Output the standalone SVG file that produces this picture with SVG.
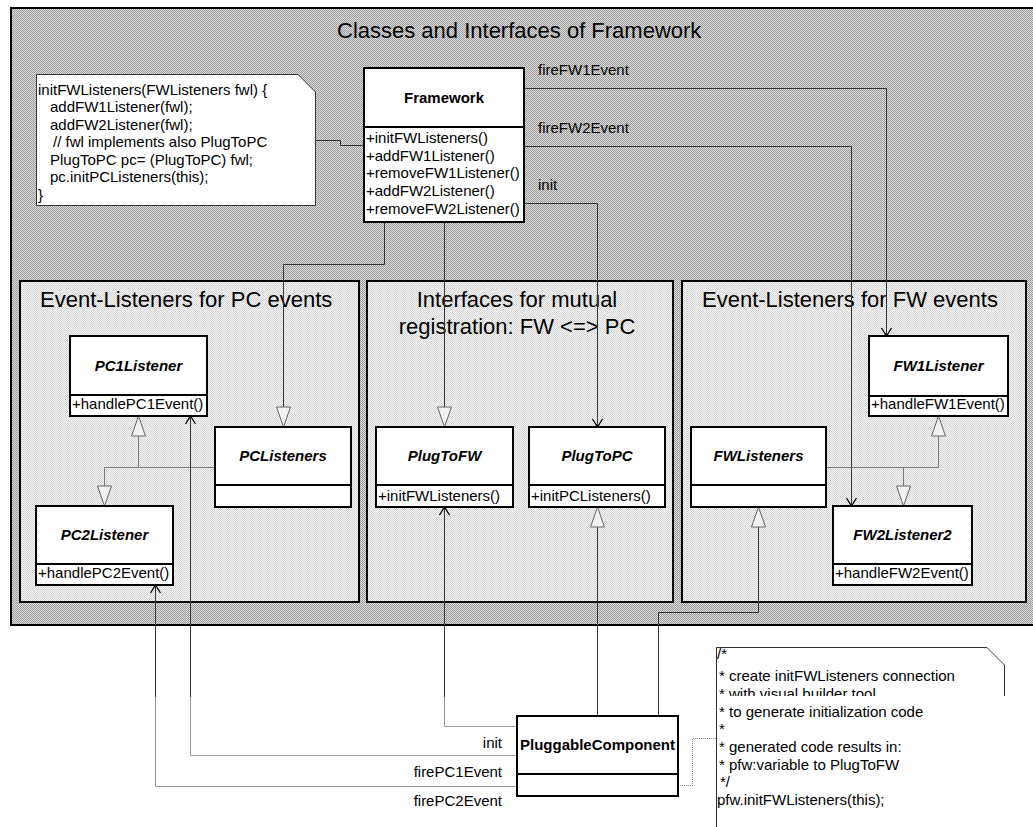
<svg xmlns="http://www.w3.org/2000/svg" width="1033" height="827" viewBox="0 0 1033 827">
  <defs>
    <!-- dithered fills for the package frames -->
    <pattern id="ditherDark" width="2" height="2" patternUnits="userSpaceOnUse">
      <rect width="2" height="2" fill="#dcdcdc"/>
      <rect width="1" height="1" fill="#9c9c9c"/>
      <rect x="1" y="1" width="1" height="1" fill="#9c9c9c"/>
    </pattern>
    <pattern id="ditherLight" width="2" height="2" patternUnits="userSpaceOnUse">
      <rect width="2" height="2" fill="#f8f8f8"/>
      <rect width="1" height="1" fill="#d2d2d2"/>
      <rect x="1" y="1" width="1" height="1" fill="#d2d2d2"/>
    </pattern>
    <!-- navigable association: open arrowhead -->
    <marker id="open" viewBox="-1 -1 10 12" markerWidth="10" markerHeight="12" refX="8" refY="5" orient="auto" markerUnits="userSpaceOnUse" overflow="visible">
      <path d="M0,0 L8,5 L0,10" fill="none" stroke="#000" stroke-width="1.3"/>
    </marker>
    <!-- generalization / realization: hollow triangle -->
    <marker id="tri" viewBox="-1 -1 22 16" markerWidth="22" markerHeight="16" refX="20" refY="7" orient="auto" markerUnits="userSpaceOnUse" overflow="visible">
      <path d="M0,0 L20,7 L0,14 Z" fill="#f1f1f1" stroke="#666" stroke-width="1"/>
    </marker>
    <clipPath id="seam">
      <rect x="700" y="640" width="320" height="56"/>
    </clipPath>
  </defs>
  <style>
    text { font-family: "Liberation Sans", Arial, Helvetica, sans-serif; fill: #000; }
    .title { font-size: 22px; }
    .name { font-size: 15px; font-weight: bold; text-anchor: middle; }
    .abstract { font-style: italic; }
    .op, .lbl, .note { font-size: 15px; }
    .end { text-anchor: end; }
    .box { fill: #fff; stroke: #000; stroke-width: 2; }
    .div { stroke: #000; stroke-width: 2; fill: none; }
    .frame { fill: url(#ditherDark); stroke: #000; stroke-width: 2; }
    .pkg { fill: url(#ditherLight); stroke: #000; stroke-width: 2; }
    .memo { fill: #fff; stroke: #333; stroke-width: 1; }
    .conn { fill: none; stroke: #333; stroke-width: 1; }
    .faint { fill: none; stroke: #999; stroke-width: 1; }
    .gen { fill: none; stroke: #7a7a7a; stroke-width: 1; }
    .link { fill: none; stroke: #888; stroke-width: 1; stroke-dasharray: 1 1; }
  </style>

  <rect width="1033" height="827" fill="#fff"/>

  <!-- outer package -->
  <g id="framework-package">
    <rect class="frame" x="11" y="8" width="1024" height="617"/>
    <text class="title" x="337" y="38">Classes and Interfaces of Framework</text>
  </g>

  <g id="pc-events-package">
    <rect class="pkg" x="20" y="281" width="339" height="321"/>
    <text class="title" x="40" y="307">Event-Listeners for PC events</text>
  </g>

  <g id="registration-package">
    <rect class="pkg" x="367" y="281" width="306" height="321"/>
    <text class="title" x="517" y="307" text-anchor="middle">Interfaces for mutual</text>
    <text class="title" x="517" y="334" text-anchor="middle">registration: FW &lt;=&gt; PC</text>
  </g>

  <g id="fw-events-package">
    <rect class="pkg" x="682" y="281" width="344" height="321"/>
    <text class="title" x="702" y="307">Event-Listeners for FW events</text>
  </g>

  <!-- connectors -->
  <g id="connectors">
    <path class="conn" d="M524,88.5 H886.5 V336" marker-end="url(#open)"/>
    <path class="conn" d="M524,146.5 H851.5 V506" marker-end="url(#open)"/>
    <path class="conn" d="M524,203.5 H597.5 V427" marker-end="url(#open)"/>
    <path class="conn" d="M384.5,222 V264.5 H283.5 V427" marker-end="url(#tri)"/>
    <path class="conn" d="M444.5,222 V427" marker-end="url(#tri)"/>
    <path class="conn" d="M315,140.5 H340.5 V145.5 H364"/>

    <path class="gen" d="M215,467.5 H104.5 V506" marker-end="url(#tri)"/>
    <path class="gen" d="M138.5,467.5 V416" marker-end="url(#tri)"/>
    <path class="gen" d="M826,467.5 H938.5 V416" marker-end="url(#tri)"/>
    <path class="gen" d="M903.5,467.5 V506" marker-end="url(#tri)"/>

    <path class="conn" d="M597.5,716 V507" marker-end="url(#tri)"/>
    <path class="conn" d="M658.5,716 V612.5 H758.5 V507" marker-end="url(#tri)"/>

    <path class="faint" d="M517,726.5 H444.5 V697"/>
    <path class="conn" d="M444.5,697 V507" marker-end="url(#open)"/>
    <path class="faint" d="M517,755.5 H190.5 V697"/>
    <path class="conn" d="M190.5,697 V416" marker-end="url(#open)"/>
    <path class="faint" d="M517,786.5 H155.5 V697"/>
    <path class="conn" d="M155.5,697 V585" marker-end="url(#open)"/>

    <path class="link" d="M678,785.5 H692.5 V738.5 H716"/>

    <text class="lbl" x="538" y="75">fireFW1Event</text>
    <text class="lbl" x="538" y="133">fireFW2Event</text>
    <text class="lbl" x="538" y="190">init</text>
    <text class="lbl end" x="502" y="748">init</text>
    <text class="lbl end" x="502" y="777">firePC1Event</text>
    <text class="lbl end" x="502" y="806">firePC2Event</text>
  </g>

  <!-- notes -->
  <g id="init-note">
    <path class="memo" d="M36.5,74.5 H298 L315.5,92 V205.5 H36.5 Z"/>
    <text class="note" x="38" y="94.5">initFWListeners(FWListeners fwl) {</text>
    <text class="note" x="50" y="112">addFW1Listener(fwl);</text>
    <text class="note" x="50" y="129.5">addFW2Listener(fwl);</text>
    <text class="note" x="53" y="147">// fwl implements also PlugToPC</text>
    <text class="note" x="50" y="164.5">PlugToPC pc= (PlugToPC) fwl;</text>
    <text class="note" x="50" y="182">pc.initPCListeners(this);</text>
    <text class="note" x="38" y="199.5">}</text>
  </g>

  <g id="builder-note">
    <path d="M716.5,647.5 H987 L1004.5,665 V696 H716.5 Z" fill="#fff"/>
    <path class="memo" fill="none" d="M716.5,827 V647.5 H987 L1004.5,665 V696"/>
    <text class="note" x="717" y="659">/*</text>
    <text class="note" x="719" y="681">* create initFWListeners connection</text>
    <text class="note" x="719" y="699" clip-path="url(#seam)">* with visual builder tool</text>
    <text class="note" x="719" y="716.5">* to generate initialization code</text>
    <text class="note" x="719" y="734">*</text>
    <text class="note" x="719" y="752">* generated code results in:</text>
    <text class="note" x="719" y="769.5">* pfw:variable to PlugToFW</text>
    <text class="note" x="720" y="787">*/</text>
    <text class="note" x="717" y="805">pfw.initFWListeners(this);</text>
  </g>

  <!-- classes -->
  <g id="Framework">
    <rect class="box" x="364" y="68" width="160" height="154"/>
    <path class="div" d="M364,127 H524"/>
    <text class="name" x="444" y="103">Framework</text>
    <text class="op" x="366" y="143">+initFWListeners()</text>
    <text class="op" x="366" y="160.5">+addFW1Listener()</text>
    <text class="op" x="366" y="178">+removeFW1Listener()</text>
    <text class="op" x="366" y="196">+addFW2Listener()</text>
    <text class="op" x="366" y="213.5">+removeFW2Listener()</text>
  </g>

  <g id="PC1Listener">
    <rect class="box" x="70" y="336" width="137" height="80"/>
    <path class="div" d="M70,395 H207"/>
    <text class="name abstract" x="138.5" y="371">PC1Listener</text>
    <text class="op" x="72" y="409">+handlePC1Event()</text>
  </g>

  <g id="PCListeners">
    <rect class="box" x="215" y="427" width="136" height="80"/>
    <path class="div" d="M215,485 H351"/>
    <text class="name abstract" x="283" y="461">PCListeners</text>
  </g>

  <g id="PC2Listener">
    <rect class="box" x="36" y="506" width="137" height="79"/>
    <path class="div" d="M36,564 H173"/>
    <text class="name abstract" x="104.5" y="540">PC2Listener</text>
    <text class="op" x="38" y="578">+handlePC2Event()</text>
  </g>

  <g id="PlugToFW">
    <rect class="box" x="376" y="427" width="137" height="80"/>
    <path class="div" d="M376,485 H513"/>
    <text class="name abstract" x="444.5" y="461">PlugToFW</text>
    <text class="op" x="378" y="500.5">+initFWListeners()</text>
  </g>

  <g id="PlugToPC">
    <rect class="box" x="529" y="427" width="136" height="80"/>
    <path class="div" d="M529,485 H665"/>
    <text class="name abstract" x="597" y="461">PlugToPC</text>
    <text class="op" x="531" y="500.5">+initPCListeners()</text>
  </g>

  <g id="FWListeners">
    <rect class="box" x="691" y="427" width="135" height="80"/>
    <path class="div" d="M691,485 H826"/>
    <text class="name abstract" x="758.5" y="461">FWListeners</text>
  </g>

  <g id="FW1Listener">
    <rect class="box" x="869" y="336" width="139" height="80"/>
    <path class="div" d="M869,396 H1008"/>
    <text class="name abstract" x="938.5" y="371">FW1Listener</text>
    <text class="op" x="871" y="409">+handleFW1Event()</text>
  </g>

  <g id="FW2Listener2">
    <rect class="box" x="833" y="506" width="139" height="79"/>
    <path class="div" d="M833,564 H972"/>
    <text class="name abstract" x="902.5" y="540">FW2Listener2</text>
    <text class="op" x="835" y="578">+handleFW2Event()</text>
  </g>

  <g id="PluggableComponent">
    <rect class="box" x="517" y="716" width="161" height="80"/>
    <path class="div" d="M517,774 H678"/>
    <text class="name" x="597.5" y="750">PluggableComponent</text>
  </g>
</svg>
